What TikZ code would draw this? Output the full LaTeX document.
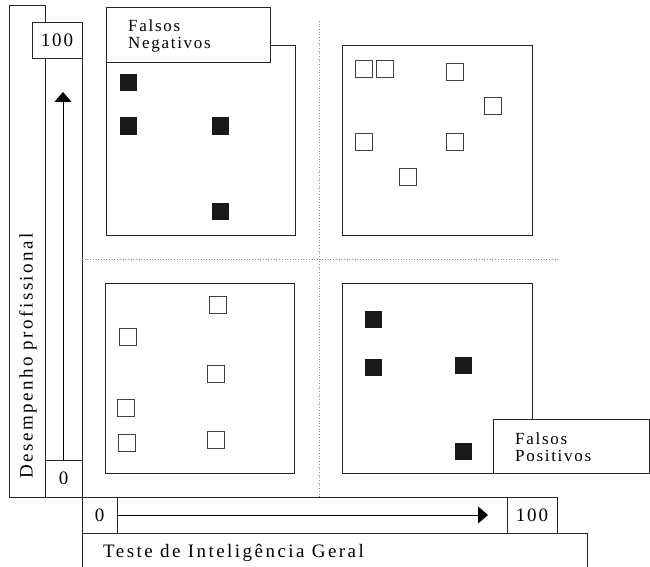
\documentclass[tikz,border=0pt]{standalone}
\usepackage{fontspec}
\setmainfont{Liberation Serif}[LetterSpace=10]
\usetikzlibrary{arrows.meta}

\tikzset{
  frame/.style={draw=black!85, line width=0.9pt},
  whitebox/.style={frame, fill=white},
  grid line/.style={draw=black!45, line width=0.7pt, dotted},
  hitsq/.style={fill=black!90, draw=none},
  opensq/.style={draw=black!75, line width=0.9pt, fill=white},
  axisarrow/.style={line width=0.8pt, -{Triangle[length=10pt,width=17pt]}},
  numtxt/.style={inner sep=0pt, font=\fontsize{19}{21}\selectfont},
  titletxt/.style={inner sep=0pt, font=\fontsize{19}{21}\selectfont\addfontfeature{LetterSpace=13}},
  tagtxt/.style={inner sep=0pt, align=left, anchor=west, font=\fontsize{17}{17}\selectfont}
}

\begin{document}
\begin{tikzpicture}[x=1pt, y=-1pt]
			%%%%% START %%%%%
			\useasboundingbox (0, 0) rectangle (650, 567);
			
			% axes frames
			\draw[frame] (9, 5) rectangle (45, 497);
			\draw[frame] (45, 497) -- (82, 497) -- (82, 58);
			\draw[frame] (82, 497) rectangle (557, 533);
			\draw[frame] (82, 567) -- (82, 533) -- (587, 533) -- (587, 567);
			\draw[whitebox] (32, 22) rectangle (82, 58);
			\draw[frame] (45, 460) -- (82, 460);
			\draw[frame] (117, 497) -- (117, 533);
			\draw[frame] (507, 497) -- (507, 533);
			
			\node[numtxt] (ymax) at (57, 40) {100};
			\node[numtxt] (yzero) at (63.5, 478.5) {0};
			\node[numtxt] (xzero) at (99.5, 515) {0};
			\node[numtxt] (xmax) at (532, 515) {100};
			
			\node[titletxt, rotate=90] (ytitle) at (28, 356) {Desempenho profissional};
			\node[titletxt, anchor=base west] (xtitle) at (103, 557) {Teste de Inteligência Geral};
			
			\coordinate (ybase) at (63, 460);
			\coordinate (ytip) at (63, 92);
			\coordinate (xbase) at (117, 515);
			\coordinate (xtip) at (488, 515);
			\draw[axisarrow] (ybase) -- (ytip);
			\draw[axisarrow] (xbase) -- (xtip);
			
			% dotted split
			\draw[grid line] (319, 21) -- (319, 497);
			\draw[grid line] (82, 259) -- (558, 259);
			
			% quadrants
			\draw[frame] (106, 45) rectangle (295, 235);
			\draw[frame] (342, 45) rectangle (532, 235);
			\draw[frame] (105, 283) rectangle (294, 473);
			\draw[frame] (342, 283) rectangle (532, 473);
			
			\draw[whitebox] (106, 7) rectangle (270, 62);
			\node[tagtxt] (fneg) at (128, 36) {Falsos\\Negativos};
			\draw[whitebox] (493, 419) rectangle (649.5, 473);
			\node[tagtxt] (fpos) at (515, 447) {Falsos\\Positivos};
			
			% filled squares
			\foreach \x/\y in {128/83, 128/126, 220/126, 220/211, 373/319, 373/367, 463/365, 463/451}
				\fill[hitsq] (\x-8.5, \y-8.5) rectangle ++(17, 17);
			
			% open squares
			\foreach \x/\y in {364/69, 385/69, 455/72, 493/106, 364/142, 455/142, 408/177,
			                   218/305, 128/337, 216/374, 126/408, 127/443, 216/440}
				\draw[opensq] (\x-8.5, \y-8.5) rectangle ++(17, 17);
			
			%%%%% END %%%%%
\end{tikzpicture}
\end{document}
